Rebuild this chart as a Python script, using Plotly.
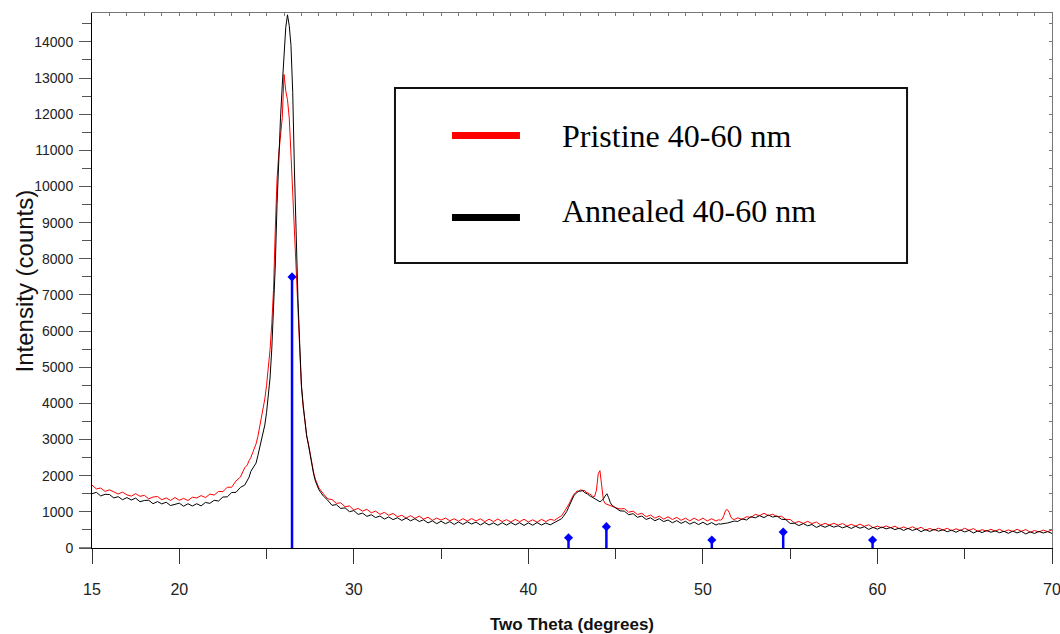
import plotly.graph_objects as go

# ---- data ----
two_theta = [
    15.0, 15.25, 15.5, 15.75, 16.0, 16.25, 16.5, 16.75, 17.0, 17.25, 17.5, 17.75,
    18.0, 18.25, 18.5, 18.75, 19.0, 19.25, 19.5, 19.75, 20.0, 20.25, 20.5, 20.75,
    21.0, 21.25, 21.5, 21.75, 22.0, 22.25, 22.5, 22.75, 23.0, 23.25, 23.5, 23.75,
    23.9, 24.0, 24.1, 24.2, 24.3, 24.4, 24.5, 24.6, 24.7, 24.8, 24.9, 25.0, 25.1,
    25.2, 25.3, 25.4, 25.5, 25.6, 25.7, 25.8, 25.9, 26.0, 26.1, 26.2, 26.3, 26.4,
    26.5, 26.6, 26.7, 26.8, 26.9, 27.0, 27.1, 27.2, 27.3, 27.4, 27.5, 27.6, 27.7,
    27.8, 27.9, 28.0,
    28.25, 28.5, 28.75, 29.0, 29.25, 29.5, 29.75, 30.0, 30.25, 30.5, 30.75, 31.0,
    31.25, 31.5, 31.75, 32.0, 32.25, 32.5, 32.75, 33.0, 33.25, 33.5, 33.75, 34.0,
    34.25, 34.5, 34.75, 35.0, 35.25, 35.5, 35.75, 36.0, 36.25, 36.5, 36.75, 37.0,
    37.25, 37.5, 37.75, 38.0, 38.25, 38.5, 38.75, 39.0, 39.25, 39.5, 39.75, 40.0,
    40.25, 40.5, 40.75, 41.0, 41.25, 41.5, 41.75,
    41.9, 42.0, 42.1, 42.2, 42.3, 42.4, 42.5, 42.6, 42.7, 42.8, 42.9, 43.0, 43.1,
    43.2, 43.3, 43.4, 43.5, 43.6, 43.7, 43.8, 43.9, 44.0, 44.1, 44.2, 44.3, 44.4,
    44.5, 44.6, 44.7, 44.8, 44.9, 45.0,
    45.25, 45.5, 45.75, 46.0, 46.25, 46.5, 46.75, 47.0, 47.25, 47.5, 47.75, 48.0,
    48.25, 48.5, 48.75, 49.0, 49.25, 49.5, 49.75, 50.0, 50.25, 50.5, 50.75,
    50.9, 51.0, 51.1, 51.2, 51.3, 51.4, 51.5, 51.6, 51.7, 51.8,
    52.0, 52.25, 52.5, 52.75, 53.0, 53.25, 53.5, 53.75, 54.0, 54.25, 54.5, 54.75,
    55.0, 55.25, 55.5, 55.75, 56.0, 56.25, 56.5, 56.75, 57.0, 57.25, 57.5, 57.75,
    58.0, 58.25, 58.5, 58.75, 59.0, 59.25, 59.5, 59.75, 60.0, 60.25, 60.5, 60.75,
    61.0, 61.25, 61.5, 61.75, 62.0, 62.25, 62.5, 62.75, 63.0, 63.25, 63.5, 63.75,
    64.0, 64.25, 64.5, 64.75, 65.0, 65.25, 65.5, 65.75, 66.0, 66.25, 66.5, 66.75,
    67.0, 67.25, 67.5, 67.75, 68.0, 68.25, 68.5, 68.75, 69.0, 69.25, 69.5, 69.75,
    70.0,
]

pristine = [
    1740, 1635, 1660, 1565, 1610, 1560, 1495, 1545, 1470, 1435, 1505, 1430,
    1455, 1360, 1410, 1425, 1335, 1385, 1315, 1397, 1320, 1372, 1313, 1405,
    1385, 1450, 1395, 1490, 1465, 1565, 1560, 1680, 1680, 1855, 1960, 2220,
    2300, 2420, 2500, 2630, 2760, 2880, 3080, 3320, 3560, 3820, 4120, 4500, 5000,
    5480, 6200, 7150, 8800, 10200, 10900, 11400, 11900, 13100, 12650, 12400, 11900, 10900,
    9700, 8500, 7600, 6600, 5500, 4450, 3900, 3450, 3100, 2880, 2600, 2280, 2080,
    1900, 1770, 1660,
    1505, 1360, 1340, 1235, 1250, 1140, 1165, 1050, 1095, 1020, 1070, 975,
    1020, 930, 985, 905, 955, 865, 905, 826, 895, 820, 880, 800,
    850, 765, 827, 772, 830, 752, 809, 740, 813, 746, 815, 748,
    806, 729, 797, 730, 803, 731, 784, 718, 792, 726, 795, 720,
    780, 715, 792, 730, 795, 765, 850,
    890, 960, 1030, 1100, 1190, 1290, 1390, 1480, 1530, 1580, 1560, 1615, 1580,
    1600, 1545, 1530, 1490, 1470, 1420, 1430, 1600, 2050, 2140, 1750, 1320, 1230,
    1210, 1185, 1160, 1140, 1125, 1115,
    1080, 1090, 990, 1020, 925, 960, 865, 913, 827, 880, 798, 863,
    788, 848, 765, 825, 752, 825, 758, 826, 748, 810, 747,
    780, 770, 795, 900, 1040, 1065, 990, 860, 800, 790,
    835, 790, 865, 845, 930, 895, 960, 895, 935, 865, 880, 790,
    790, 690, 735, 680, 738, 675, 719, 637, 681, 635, 684, 633,
    677, 606, 655, 603, 661, 599, 642, 560, 605, 560, 611, 560,
    604, 533, 582, 530, 587, 527, 573, 494, 540, 496, 548, 499,
    546, 479, 532, 485, 547, 490, 537, 460, 507, 464, 517, 469,
    517, 449, 502, 455, 519, 462, 511, 435, 484, 443, 497, 451,
    500,
]

annealed = [
    1500, 1540, 1440, 1485, 1480, 1385, 1420, 1335, 1395, 1327, 1380, 1280,
    1315, 1320, 1225, 1285, 1220, 1265, 1175, 1215, 1240, 1155, 1225, 1162,
    1225, 1165, 1260, 1235, 1320, 1300, 1410, 1415, 1535, 1540, 1675, 1740,
    1860, 1960, 2120, 2210, 2290, 2350, 2550, 2780, 3000, 3200, 3400, 3750, 4150,
    4700, 5500, 6500, 7800, 9500, 10800, 11900, 12800, 13700, 14400, 14750, 14450, 13900,
    12600, 10400, 8500, 6900, 5650, 4500, 3950, 3450, 3100, 2850, 2550, 2250, 2040,
    1850, 1720, 1610,
    1440, 1325, 1180, 1200, 1095, 1110, 1005, 1035, 930, 965, 875, 920,
    842, 885, 800, 860, 785, 837, 762, 828, 752, 810, 733, 780,
    695, 750, 673, 740, 672, 729, 652, 720, 653, 726, 664, 716,
    638, 705, 637, 695, 628, 701, 634, 704, 639, 699, 624, 694,
    629, 704, 635, 693, 640, 710, 760,
    810, 870, 940, 1010, 1120, 1230, 1350, 1440, 1500, 1550, 1580, 1570, 1595,
    1540, 1520, 1490, 1450, 1420, 1380, 1360, 1330, 1310, 1280, 1310, 1360, 1440,
    1500, 1390, 1250, 1180, 1140, 1110,
    1027, 1020, 920, 950, 850, 885, 790, 835, 755, 810, 730, 775,
    698, 757, 682, 738, 660, 718, 648, 713, 643, 703, 635,
    670, 660, 675, 670, 685, 690, 705, 720, 735, 745,
    735, 805, 775, 865, 835, 895, 840, 912, 855, 885, 795, 785,
    680, 685, 620, 675, 615, 650, 570, 623, 573, 628, 578, 613,
    558, 599, 540, 601, 547, 588, 514, 570, 522, 579, 530, 565,
    509, 548, 486, 543, 485, 526, 452, 508, 459, 515, 466, 503,
    450, 492, 435, 497, 444, 487, 415, 473, 426, 483, 436, 473,
    421, 464, 406, 468, 416, 459, 388, 447, 401, 460, 414, 454,
    403,
]

ref_theta = [26.46, 42.30, 44.47, 50.51, 54.60, 59.72]
ref_counts = [7500, 285, 590, 220, 440, 220]

x_ticks = [15, 20, 30, 40, 50, 60, 70]
x_minor_ticks = [25, 35, 45, 55, 65]

series_names = ["Pristine 40-60 nm", "Annealed 40-60 nm"]
series_colors = ["#ff0000", "#000000"]

assert len(two_theta) == len(pristine) == len(annealed)

# ---- figure ----
fig = go.Figure()

for name, ys, col in zip(series_names, [pristine, annealed], series_colors):
    fig.add_trace(go.Scatter(x=two_theta, y=ys, mode="lines", name=name,
                             line=dict(color=col, width=1), showlegend=False))

# reference stick pattern
stick_x, stick_y = [], []
for t, c in zip(ref_theta, ref_counts):
    stick_x += [t, t, None]
    stick_y += [0, c, None]
fig.add_trace(go.Scatter(x=stick_x, y=stick_y, mode="lines",
                         line=dict(color="#0000ff", width=2.5), showlegend=False))
fig.add_trace(go.Scatter(x=ref_theta, y=ref_counts, mode="markers",
                         marker=dict(symbol="diamond", size=7, color="#0000ff"),
                         showlegend=False))

# empty trace to anchor the mirrored frame axes
fig.add_trace(go.Scatter(x=[], y=[], xaxis="x2", yaxis="y2", showlegend=False))

sans = "Liberation Sans, Arial, sans-serif"

fig.update_layout(
    width=1060, height=634,
    margin=dict(l=92, r=8, t=13, b=86),
    paper_bgcolor="white", plot_bgcolor="white",
    showlegend=False,
    xaxis=dict(
        range=[15, 70], tickvals=x_ticks, ticktext=[str(v) for v in x_ticks],
        ticks="outside", ticklen=15, tickwidth=1, tickcolor="#333333",
        ticklabelstandoff=12, automargin=False, ticklabeloverflow="allow",
        minor=dict(tickvals=x_minor_ticks, ticks="outside", ticklen=10,
                   tickwidth=1, tickcolor="#333333"),
        showline=True, linecolor="#000000", linewidth=1,
        showgrid=False, zeroline=False,
        tickfont=dict(family=sans, size=16, color="#222222"),
        title=dict(text="<b>Two Theta (degrees)</b>",
                   font=dict(family=sans, size=17, color="#111111"),
                   standoff=20),
    ),
    yaxis=dict(
        range=[0, 14800], tick0=0, dtick=1000, tickformat="d",
        ticks="outside", ticklen=12, tickwidth=1, tickcolor="#555555",
        ticklabelstandoff=3, automargin=False,
        minor=dict(dtick=500, ticks="outside", ticklen=9, tickwidth=1, tickcolor="#555555"),
        showline=True, linecolor="#000000", linewidth=1,
        showgrid=False, zeroline=False,
        tickfont=dict(family=sans, size=14, color="#222222"),
    ),
    xaxis2=dict(
        overlaying="x", side="top", anchor="y", range=[15, 70], dtick=1, tick0=15,
        ticks="inside", ticklen=3, tickcolor="#777777", showticklabels=False,
        automargin=False,
        showline=True, linecolor="#777777", linewidth=1, showgrid=False, zeroline=False,
    ),
    yaxis2=dict(
        overlaying="y", side="right", anchor="x", range=[0, 14800], dtick=500, tick0=0,
        ticks="inside", ticklen=3, tickcolor="#777777", showticklabels=False,
        automargin=False,
        showline=True, linecolor="#777777", linewidth=1, showgrid=False, zeroline=False,
    ),
)

# y-axis title placed as rotated text
fig.add_annotation(xref="paper", yref="paper", x=-0.0698, y=0.5, text="Intensity (counts)",
                   textangle=-90, showarrow=False, xanchor="center", yanchor="middle",
                   font=dict(family=sans, size=24, color="#111111"))

# bottom axis line reaching a little left of the y axis
fig.add_shape(type="line", xref="paper", yref="y", x0=-0.0135, x1=0, y0=0, y1=0,
              line=dict(color="#000000", width=1))

# boxed legend
fig.add_shape(type="rect", xref="paper", yref="paper", x0=0.3156, x1=0.8490,
              y0=0.5327, y1=0.8598, line=dict(color="#111111", width=2),
              fillcolor="white", layer="above")
legend_y_line = [0.7710, 0.6178]
legend_y_text = [0.7700, 0.6290]
for name, col, yl, yt in zip(series_names, series_colors, legend_y_line, legend_y_text):
    fig.add_shape(type="line", xref="paper", yref="paper", x0=0.375, x1=0.4458,
                  y0=yl, y1=yl, line=dict(color=col, width=7), layer="above")
    fig.add_annotation(xref="paper", yref="paper", x=0.4875, y=yt, text=name,
                       showarrow=False, xanchor="left", yanchor="middle",
                       font=dict(family="Liberation Serif, Times New Roman, serif",
                                 size=32, color="#000000"))

fig.write_html("out.html")
